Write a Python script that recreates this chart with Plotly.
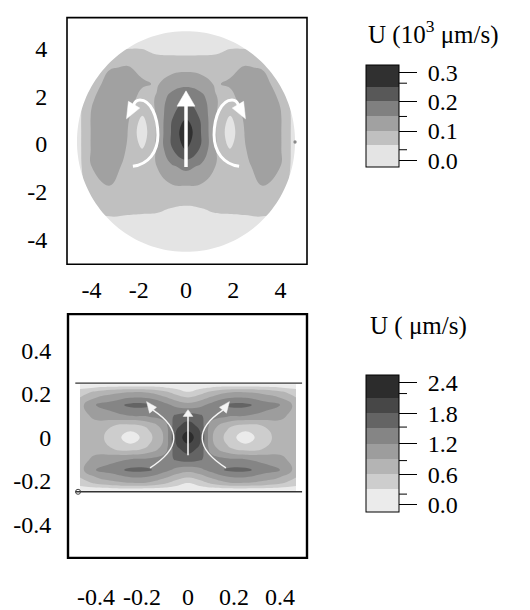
import numpy as np
import plotly.graph_objects as go

# ---------------- data ----------------
# Top panel: U in 10^3 um/s on a coarse grid
top_x = [-4.8, -4.0, -3.25, -2.48, -1.86, -1.24, -0.67, 0, 0.67, 1.24, 1.86, 2.48, 3.25, 4.0, 4.8]
top_y = [-4.8, -4.05, -3.3, -2.5, -1.75, -0.95, -0.2, 0.5, 1.15, 1.85, 2.5, 3.2, 3.85, 4.45, 5.0]
top_u = [
    [0.005, 0.01, 0.01, 0.01, 0.01, 0.01, 0.01, 0.01, 0.01, 0.01, 0.01, 0.01, 0.01, 0.01, 0.005],
    [0.005, 0.02, 0.025, 0.03, 0.03, 0.03, 0.03, 0.03, 0.03, 0.03, 0.03, 0.03, 0.025, 0.02, 0.005],
    [0.005, 0.03, 0.04, 0.04, 0.04, 0.04, 0.035, 0.035, 0.035, 0.04, 0.04, 0.04, 0.04, 0.03, 0.005],
    [0.005, 0.06, 0.07, 0.065, 0.062, 0.06, 0.055, 0.052, 0.055, 0.06, 0.062, 0.065, 0.07, 0.06, 0.005],
    [0.005, 0.08, 0.10, 0.075, 0.075, 0.08, 0.095, 0.10, 0.095, 0.08, 0.075, 0.075, 0.10, 0.08, 0.005],
    [0.005, 0.10, 0.125, 0.085, 0.07, 0.10, 0.14, 0.165, 0.14, 0.10, 0.07, 0.085, 0.125, 0.10, 0.005],
    [0.005, 0.105, 0.13, 0.097, 0.05, 0.105, 0.19, 0.255, 0.19, 0.105, 0.05, 0.097, 0.13, 0.105, 0.005],
    [0.005, 0.105, 0.13, 0.101, 0.02, 0.105, 0.195, 0.29, 0.195, 0.105, 0.02, 0.101, 0.13, 0.105, 0.005],
    [0.005, 0.105, 0.13, 0.11, 0.045, 0.105, 0.19, 0.24, 0.19, 0.105, 0.045, 0.11, 0.13, 0.105, 0.005],
    [0.005, 0.095, 0.13, 0.13, 0.075, 0.105, 0.17, 0.195, 0.17, 0.105, 0.075, 0.13, 0.13, 0.095, 0.005],
    [0.005, 0.07, 0.125, 0.13, 0.108, 0.095, 0.125, 0.14, 0.125, 0.095, 0.108, 0.13, 0.125, 0.07, 0.005],
    [0.005, 0.05, 0.095, 0.105, 0.085, 0.075, 0.08, 0.085, 0.08, 0.075, 0.085, 0.105, 0.095, 0.05, 0.005],
    [0.005, 0.03, 0.05, 0.055, 0.055, 0.045, 0.042, 0.04, 0.042, 0.045, 0.055, 0.055, 0.05, 0.03, 0.005],
    [0.005, 0.02, 0.03, 0.03, 0.03, 0.03, 0.03, 0.03, 0.03, 0.03, 0.03, 0.03, 0.03, 0.02, 0.005],
    [0.005, 0.01, 0.01, 0.01, 0.01, 0.01, 0.01, 0.01, 0.01, 0.01, 0.01, 0.01, 0.01, 0.01, 0.005],
]
top_levels = [0.0, 0.05, 0.10, 0.15, 0.20, 0.25, 0.30]
top_ticks = [0.0, 0.1, 0.2, 0.3]
top_ticktext = [" 0.0", " 0.1", " 0.2", " 0.3"]
top_axis_ticks = [-4, -2, 0, 2, 4]
top_axis_text = ["-4", "-2", "0", "2", "4"]
top_radius = 4.62
top_center = [0.0, 0.1]
top_dot_x = [4.62]
top_dot_y = [0.08]

# Bottom panel: U in um/s
bot_x = [-0.47, -0.4, -0.33, -0.25, -0.17, -0.1, -0.05, 0, 0.05, 0.1, 0.17, 0.25, 0.33, 0.4, 0.47]
bot_y = [-0.245, -0.21, -0.15, -0.1, -0.05, 0, 0.05, 0.1, 0.15, 0.21, 0.245]
bot_u = [
    [0.05, 0.05, 0.05, 0.05, 0.05, 0.05, 0.05, 0.05, 0.05, 0.05, 0.05, 0.05, 0.05, 0.05, 0.05],
    [0.45, 0.65, 0.8, 0.88, 0.85, 0.65, 0.45, 0.3, 0.45, 0.65, 0.85, 0.88, 0.8, 0.65, 0.45],
    [0.8, 1.2, 1.35, 1.58, 1.55, 1.3, 1.1, 1.0, 1.1, 1.3, 1.55, 1.58, 1.35, 1.2, 0.8],
    [0.75, 1.0, 1.1, 1.2, 1.25, 1.35, 1.55, 1.65, 1.55, 1.35, 1.25, 1.2, 1.1, 1.0, 0.75],
    [0.75, 0.75, 0.6, 0.45, 0.65, 1.05, 1.75, 1.95, 1.75, 1.05, 0.65, 0.45, 0.6, 0.75, 0.75],
    [0.75, 0.7, 0.5, 0.1, 0.5, 0.95, 1.9, 2.3, 1.9, 0.95, 0.5, 0.1, 0.5, 0.7, 0.75],
    [0.75, 0.75, 0.6, 0.45, 0.65, 1.05, 1.75, 1.95, 1.75, 1.05, 0.65, 0.45, 0.6, 0.75, 0.75],
    [0.75, 1.0, 1.1, 1.2, 1.25, 1.35, 1.55, 1.65, 1.55, 1.35, 1.25, 1.2, 1.1, 1.0, 0.75],
    [0.8, 1.2, 1.35, 1.58, 1.55, 1.3, 1.1, 1.0, 1.1, 1.3, 1.55, 1.58, 1.35, 1.2, 0.8],
    [0.45, 0.65, 0.8, 0.88, 0.85, 0.65, 0.45, 0.3, 0.45, 0.65, 0.85, 0.88, 0.8, 0.65, 0.45],
    [0.05, 0.05, 0.05, 0.05, 0.05, 0.05, 0.05, 0.05, 0.05, 0.05, 0.05, 0.05, 0.05, 0.05, 0.05],
]
bot_levels = [0.0, 0.3, 0.6, 0.9, 1.2, 1.5, 1.8, 2.1, 2.4]
bot_ticks = [0.0, 0.6, 1.2, 1.8, 2.4]
bot_ticktext = [" 0.0", " 0.6", " 1.2", " 1.8", " 2.4"]
bot_axis_ticks = [-0.4, -0.2, 0, 0.2, 0.4]
bot_axis_text = ["-0.4", "-0.2", "0", "0.2", "0.4"]
wall_y = [-0.25, 0.25]
wall_x = [-0.49, 0.496]
probe_x = [-0.478]
probe_y = [-0.25]

# ---------------- styling ----------------
W, H = 530, 610
FONT = "Liberation Serif"
FS = 24
top_colors = ["#e4e4e4", "#c0c0c0", "#a1a1a1", "#808080", "#585858", "#303030"]
bot_colors = ["#ebebeb", "#cdcdcd", "#b4b4b4", "#9d9d9d", "#858585", "#646464", "#474747", "#2c2c2c"]


def band_scale(colors):
    n = len(colors) + 1
    cols = [colors[0]] + list(colors) + [colors[-1]]
    return [[j / n, c] for j, c in enumerate(cols)]


def px_x(p):
    return p / W


def px_y(p):
    return 1 - p / H


# panel pixel boxes
T_L, T_R, T_T, T_B = 67, 307, 18, 270
B_L, B_R, B_T, B_B = 68, 307, 321, 570

fig = go.Figure()

cb_common = dict(xpad=0, ypad=0, outlinewidth=1, outlinecolor="black",
                 lenmode="pixels", thicknessmode="pixels", thickness=33,
                 ticks="outside", ticklen=18, tickwidth=1, tickcolor="black",
                 tickfont=dict(family=FONT, size=FS, color="black"))

fig.add_trace(go.Contour(
    x=top_x, y=top_y, z=top_u, xaxis="x", yaxis="y",
    autocontour=False,
    contours=dict(start=top_levels[0], end=top_levels[-1], size=top_levels[1] - top_levels[0],
                  coloring="fill", showlines=False),
    line=dict(width=0, smoothing=1.3),
    colorscale=band_scale(top_colors),
    colorbar=dict(x=px_x(366), xanchor="left", y=px_y(119), yanchor="middle", len=102,
                  tickvals=top_ticks, ticktext=top_ticktext, **cb_common),
    hoverinfo="skip",
))

fig.add_trace(go.Contour(
    x=bot_x, y=bot_y, z=bot_u, xaxis="x2", yaxis="y2",
    autocontour=False,
    contours=dict(start=bot_levels[0], end=bot_levels[-1], size=bot_levels[1] - bot_levels[0],
                  coloring="fill", showlines=False),
    line=dict(width=0, smoothing=1.3),
    colorscale=band_scale(bot_colors),
    colorbar=dict(x=px_x(366), xanchor="left", y=px_y((385 + 522) / 2), yanchor="middle", len=137,
                  tickvals=bot_ticks, ticktext=bot_ticktext, **cb_common),
    hoverinfo="skip",
))

# channel walls and probe in bottom panel
for wy in wall_y:
    fig.add_trace(go.Scatter(x=wall_x, y=[wy, wy], mode="lines", xaxis="x2", yaxis="y2",
                             line=dict(color="#333333", width=1.4), showlegend=False, hoverinfo="skip"))
fig.add_trace(go.Scatter(x=probe_x, y=probe_y, mode="markers", xaxis="x2", yaxis="y2",
                         marker=dict(symbol="circle-open", size=5, color="#444444", line=dict(width=1)),
                         showlegend=False, hoverinfo="skip"))

axis_font = dict(family=FONT, size=FS, color="black")
common = dict(showgrid=False, zeroline=False, showline=False, ticks="outside",
              tickcolor="rgba(0,0,0,0)", tickfont=axis_font, fixedrange=True)

top_xr = [(T_L - 186) / 23.6, (T_R - 186) / 23.6]
top_yr = [(147 - T_B) / 24.4, (147 - T_T) / 24.4]
bot_xr = [(B_L - 188) / 230, (B_R - 188) / 230]
bot_yr = [(447 - B_B) / 222, (447 - B_T) / 222]

fig.update_layout(
    width=W, height=H, margin=dict(l=0, r=0, t=0, b=0),
    paper_bgcolor="white", plot_bgcolor="white", showlegend=False,
    xaxis=dict(domain=[px_x(T_L), px_x(T_R)], range=top_xr, anchor="y",
               tickvals=top_axis_ticks, ticktext=top_axis_text, ticklen=4, **common),
    yaxis=dict(domain=[px_y(T_B), px_y(T_T)], range=top_yr, anchor="x",
               tickvals=top_axis_ticks, ticktext=top_axis_text, ticklen=14, **common),
    xaxis2=dict(domain=[px_x(B_L), px_x(B_R)], range=bot_xr, anchor="y2",
                tickvals=bot_axis_ticks, ticktext=bot_axis_text, ticklen=17, **common),
    yaxis2=dict(domain=[px_y(B_B), px_y(B_T)], range=bot_yr, anchor="x2",
                tickvals=bot_axis_ticks, ticktext=bot_axis_text, ticklen=11, **common),
)

shapes = []

# mask outside the circular domain (top panel)
theta = np.linspace(0, 2 * np.pi, 181)
cx, cy = top_center
circ = " ".join(f"{'M' if i == 0 else 'L'} {cx + top_radius * np.cos(t):.4f},{cy + top_radius * np.sin(t):.4f}"
                for i, t in enumerate(theta))
mask_path = f"M -8,-8 L 8,-8 L 8,8 L -8,8 Z {circ} Z"
shapes.append(dict(type="path", path=mask_path, xref="x", yref="y", fillcolor="white",
                   fillrule="evenodd", line=dict(width=0), layer="above"))

# top panel arrows (white)
shapes.append(dict(type="line", xref="x", yref="y", x0=0, y0=-0.97, x1=0, y1=1.7,
                   line=dict(color="white", width=3.5)))
shapes.append(dict(type="path", xref="x", yref="y", path="M -0.38,1.58 L 0.38,1.58 L 0,2.22 Z",
                   fillcolor="white", line=dict(color="white", width=0.5)))
for s in (-1, 1):
    p = (f"M {s*2.25},-0.94 C {s*1.6},-0.85 {s*1.19},-0.35 {s*1.19},0.37 "
         f"C {s*1.19},1.15 {s*1.5},1.84 {s*1.95},1.84 Q {s*2.15},1.84 {s*2.22},1.62")
    shapes.append(dict(type="path", xref="x", yref="y", path=p,
                       line=dict(color="white", width=3)))
    shapes.append(dict(type="path", xref="x", yref="y",
                       path=f"M {s*2.52},1.05 L {s*1.96},1.50 L {s*2.44},1.78 Z",
                       fillcolor="white", line=dict(color="white", width=0.5)))

# bottom panel arrows (light)
acol = "#f4f4f4"
shapes.append(dict(type="line", xref="x2", yref="y2", x0=0, y0=-0.082, x1=0, y1=0.1,
                   line=dict(color=acol, width=1.6)))
shapes.append(dict(type="path", xref="x2", yref="y2", path="M -0.021,0.097 L 0.021,0.097 L 0,0.128 Z",
                   fillcolor=acol, line=dict(color=acol, width=0.5)))
for s in (-1, 1):
    shapes.append(dict(type="path", xref="x2", yref="y2",
                       path=f"M {s*0.165},-0.14 Q {s*(-0.035)},-0.005 {s*0.152},0.126",
                       line=dict(color=acol, width=1.4)))
    shapes.append(dict(type="path", xref="x2", yref="y2",
                       path=f"M {s*0.18},0.165 L {s*0.137},0.139 L {s*0.167},0.112 Z",
                       fillcolor=acol, line=dict(color=acol, width=0.5)))

# small dot on the circle edge
shapes.append(dict(type="circle", xref="x", yref="y",
                   x0=top_dot_x[0] - 0.07, x1=top_dot_x[0] + 0.07,
                   y0=top_dot_y[0] - 0.07, y1=top_dot_y[0] + 0.07,
                   fillcolor="#8a8a8a", line=dict(width=0)))

# frames
shapes.append(dict(type="rect", xref="x domain", yref="y domain", x0=0, x1=1, y0=0, y1=1,
                   line=dict(color="black", width=1.6)))
shapes.append(dict(type="rect", xref="x2 domain", yref="y2 domain", x0=0, x1=1, y0=0, y1=1,
                   line=dict(color="black", width=2.4)))


# short intermediate colorbar ticks
def short_ticks(levels, ticks, top_px, bot_px):
    lo, hi = levels[0], levels[-1]
    out = []
    for lv in levels:
        if any(abs(lv - t) < 1e-9 for t in ticks):
            continue
        py = bot_px - (lv - lo) / (hi - lo) * (bot_px - top_px)
        out.append(dict(type="line", xref="paper", yref="paper", x0=px_x(399), x1=px_x(407),
                        y0=px_y(py), y1=px_y(py), line=dict(color="black", width=1)))
    return out


shapes += short_ticks(top_levels, top_ticks, 68, 170)
shapes += short_ticks(bot_levels, bot_ticks, 385, 522)

fig.update_layout(shapes=shapes)

fig.add_annotation(x=px_x(366), y=px_y(33), xref="paper", yref="paper", xanchor="left", yanchor="middle",
                   text="U (10<sup>3</sup> \u03bcm/s)", showarrow=False,
                   font=dict(family=FONT, size=25, color="black"))
fig.add_annotation(x=px_x(368), y=px_y(333), xref="paper", yref="paper", xanchor="left", yanchor="middle",
                   text="U ( \u03bcm/s)", showarrow=False,
                   font=dict(family=FONT, size=25, color="black"))

fig.write_html("out.html")
